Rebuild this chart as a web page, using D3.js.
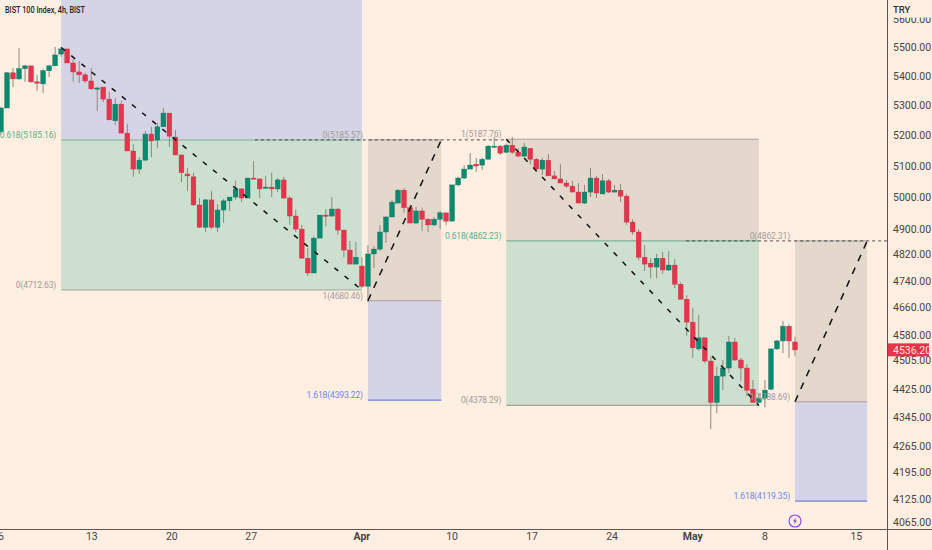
<!DOCTYPE html>
<html lang="en">
<head>
<meta charset="UTF-8">
<title>BIST 100 Index, 4h</title>
<script src="https://d3js.org/d3.v7.min.js"></script>
<style>
    html, body { margin: 0; padding: 0; background: #FFEFE2; }
    svg { display: block; font-family: Roboto, "Noto Sans", sans-serif; }
</style>
</head>
<body>
<svg id="chart" width="932" height="550"></svg>
<script>
// candles
const opens = [5212,5292,5412,5391,5426,5436,5381,5374,5419,5436,5477,5495,5446,5415,5405,5384,5357,5363,5322,5249,5305,5208,5149,5090,5119,5205,5185,5229,5275,5195,5136,5074,5065,4975,4905,4991,4905,4959,4988,5000,5026,4997,5061,5058,5029,5032,5026,5055,4997,4940,4899,4809,4764,4871,4943,4940,4962,4896,4834,4791,4785,4724,4822,4837,4890,4937,4981,5022,4966,4918,4956,4930,4912,4930,4950,4924,5039,5061,5090,5106,5103,5122,5162,5165,5145,5168,5145,5132,5158,5122,5090,5119,5068,5058,5045,5035,5016,4981,5016,5061,5010,5052,5016,5022,5003,4921,4890,4812,4794,4782,4809,4773,4788,4730,4685,4617,4539,4571,4504,4387,4461,4484,4559,4507,4484,4424,4387,4399,4424,4539,4562,4605,4559];
const highs = [5295,5415,5429,5498,5439,5436,5405,5426,5439,5502,5502,5495,5460,5453,5412,5429,5363,5363,5346,5326,5316,5239,5172,5129,5215,5229,5242,5292,5275,5218,5136,5094,5078,4997,4994,5019,4978,4994,5000,5052,5029,5061,5116,5061,5068,5078,5061,5065,5003,4959,4912,4840,4877,4943,4962,5000,4966,4896,4862,4859,4812,4849,4846,4912,4940,4991,5026,5029,4975,4969,4966,4934,4937,4956,4950,5039,5065,5103,5142,5126,5126,5168,5195,5168,5172,5195,5158,5175,5158,5126,5126,5139,5084,5106,5055,5052,5045,5039,5094,5068,5074,5058,5039,5042,5010,4930,4899,4849,4809,4822,4828,4831,4806,4736,4697,4659,4638,4571,4516,4487,4507,4577,4571,4513,4495,4450,4413,4450,4539,4565,4620,4611,4574];
const lows = [5205,5292,5363,5387,5381,5377,5350,5343,5398,5436,5467,5446,5381,5377,5377,5353,5282,5312,5252,5235,5208,5149,5065,5074,5119,5129,5158,5229,5162,5136,5048,5019,4972,4902,4890,4899,4890,4918,4956,4991,4984,4997,5058,4997,5026,5000,5016,4994,4912,4890,4809,4755,4764,4871,4908,4937,4881,4812,4791,4791,4718,4676,4779,4831,4856,4937,4981,4950,4918,4915,4893,4890,4908,4899,4912,4924,5035,5058,5090,5081,5087,5122,5162,5136,5142,5139,5132,5132,5106,5081,5071,5068,5058,5045,5029,5016,4981,4978,5000,4997,5010,5013,5016,4984,4912,4881,4803,4770,4748,4748,4761,4770,4718,4685,4577,4513,4533,4498,4313,4357,4421,4470,4504,4447,4404,4387,4387,4373,4421,4536,4527,4513,4519];
const closes = [5292,5412,5391,5426,5436,5381,5376,5419,5436,5474,5495,5446,5415,5405,5384,5357,5360,5322,5252,5305,5208,5149,5090,5119,5205,5182,5229,5275,5198,5136,5078,5068,4975,4905,4991,4905,4959,4988,5000,5026,4997,5061,5058,5026,5032,5026,5055,4997,4940,4899,4809,4764,4871,4943,4940,4962,4896,4834,4791,4812,4724,4822,4837,4890,4937,4984,5022,4966,4918,4956,4930,4912,4930,4950,4924,5039,5061,5090,5103,5100,5122,5165,5165,5142,5168,5145,5132,5162,5122,5090,5119,5068,5058,5045,5035,5016,4981,5016,5061,5013,5052,5016,5022,5003,4921,4890,4812,4791,4782,4809,4773,4788,4730,4685,4617,4542,4571,4504,4387,4461,4484,4559,4507,4484,4421,4387,4399,4421,4539,4562,4605,4562,4536.2];

const priceTicks = [5600,5500,5400,5300,5200,5100,5000,4900,4820,4740,4660,4580,4505,4425,4345,4265,4195,4125,4065];
const lastPrice = 4536.20;

const dateLabels = ["6","13","20","27","Apr","10","17","24","May","8","15"];
const dateBars = [0,15.1,28.4,41.6,60,75,88.3,101.6,115,127,142.2];

// fib tools, in bars and prices
const zoneBars = [[10,60],[10,60],[61,73.2],[61,73.2],[84,126],[84,126],[132,144],[132,144]];
const zonePrices = [[5950,5185.16],[5185.16,4712.63],[5185.57,4680.46],[4680.46,4393.22],[5187.76,4862.23],[4862.23,4378.29],[4862.31,4388.69],[4388.69,4119.35]];
const zoneKinds = ["blue","green","tan","blue","tan","green","tan","blue"];
const zoneEdges = ["g","n","n","b","g","n","n","b"];

const zigzagBars = [[10,60],[61,73.2],[84,126],[132,144]];
const zigzagPrices = [[5500,4712.63],[4680.46,5185.57],[5187.76,4378.29],[4388.69,4862.31]];
const zigzagDash = ["5 8","7 7","5 8","7 7"];
const levelBars = [[42.2,84],[113.9,148]];
const levelPrices = [5185.57,4862.31];

const fibLabels = ["0.618(5185.16)","0(4712.63)","0(5185.57)","1(4680.46)","1.618(4393.22)","1(5187.76)","0.618(4862.23)","0(4378.29)","0(4862.31)","1(4388.69)","1.618(4119.35)"];
const fibLabelBars = [10,10,61,61,61,84,84,84,132,132,132];
const fibLabelPrices = [5185.16,4712.63,5185.57,4680.46,4393.22,5187.76,4862.23,4378.29,4862.31,4388.69,4119.35];
const fibLabelKinds = ["g","n","n","n","b","n","g","n","n","n","b"];

const W = 932, H = 550, plotR = 887, plotB = 529;
const bull = "#0B8A70", bear = "#E5344B";
const zoneFill = {blue: "#D5D4E6", green: "#CDDFCE", tan: "#E3D8CB"};
const edgeColor = {b: "#6C86DA", g: "#7FB295", n: "#A8A198"};
const labelFill = {g: "#5BAF8B", n: "#A39C96", b: "#6B88DC"};

const svg = d3.select("#chart");

const x = d3.scaleLinear().domain([0, 132]).range([1, 795]);
const y = d3.scaleLog().domain([5500, 4125]).range([47.5, 499]);

svg.append("defs").append("clipPath").attr("id", "plot")
    .append("rect").attr("width", plotR).attr("height", plotB);
svg.append("defs").append("clipPath").attr("id", "scale")
    .append("rect").attr("x", plotR).attr("y", 17.5).attr("width", W - plotR).attr("height", plotB - 17.5);

const plot = svg.append("g").attr("clip-path", "url(#plot)");

// zones
const zones = zoneBars.map((b, i) => ({b, p: zonePrices[i], kind: zoneKinds[i], edge: zoneEdges[i]}));
plot.selectAll("rect.zone").data(zones).join("rect")
    .attr("class", "zone")
    .attr("x", d => x(d.b[0]))
    .attr("width", d => x(d.b[1]) - x(d.b[0]))
    .attr("y", d => y(d.p[0]))
    .attr("height", d => y(d.p[1]) - y(d.p[0]))
    .attr("fill", d => zoneFill[d.kind]);

// edge at the far side of each zone
plot.selectAll("line.edge").data(zones).join("line")
    .attr("class", "edge")
    .attr("x1", d => x(d.b[0])).attr("x2", d => x(d.b[1]))
    .attr("y1", d => y(d.p[1])).attr("y2", d => y(d.p[1]))
    .attr("stroke", d => edgeColor[d.edge]).attr("stroke-width", 1.2);
plot.selectAll("line.top").data(zones.filter(d => d.kind == "tan")).join("line")
    .attr("class", "top")
    .attr("x1", d => x(d.b[0])).attr("x2", d => x(d.b[1]))
    .attr("y1", d => y(d.p[0])).attr("y2", d => y(d.p[0]))
    .attr("stroke", edgeColor.n).attr("stroke-width", 1);

// level dashes
plot.selectAll("line.level").data(levelBars).join("line")
    .attr("class", "level")
    .attr("x1", d => x(d[0])).attr("x2", d => x(d[1]))
    .attr("y1", (d, i) => y(levelPrices[i])).attr("y2", (d, i) => y(levelPrices[i]))
    .attr("stroke", "#3a3a3a").attr("stroke-width", 0.9).attr("stroke-dasharray", "3 3");

// candles
const candles = opens.map((o, i) => ({i, o, h: highs[i], l: lows[i], c: closes[i]}));
const isUp = d => d.c >= d.o;
const candle = plot.selectAll("g.candle").data(candles).join("g").attr("class", "candle");
candle.append("line")
    .attr("x1", d => x(d.i)).attr("x2", d => x(d.i))
    .attr("y1", d => y(d.h)).attr("y2", d => y(d.l))
    .attr("stroke", "#8E877C").attr("stroke-width", 1);
candle.append("rect")
    .attr("x", d => x(d.i) - 2.4)
    .attr("width", 4.8)
    .attr("y", d => y(Math.max(d.o, d.c)))
    .attr("height", d => Math.max(1.2, Math.abs(y(d.o) - y(d.c))))
    .attr("fill", d => isUp(d) ? bull : bear)
    .attr("stroke", d => isUp(d) ? "#0A7560" : "#C9384A")
    .attr("stroke-width", 0.4);

// zigzag dashes
plot.selectAll("line.zigzag").data(zigzagBars).join("line")
    .attr("class", "zigzag")
    .attr("x1", d => x(d[0])).attr("x2", d => x(d[1]))
    .attr("y1", (d, i) => y(zigzagPrices[i][0])).attr("y2", (d, i) => y(zigzagPrices[i][1]))
    .attr("stroke", "#111").attr("stroke-width", 1.5)
    .attr("stroke-dasharray", (d, i) => zigzagDash[i]);

// fib labels, right aligned to the zone's left edge
plot.selectAll("text.fib").data(fibLabels).join("text")
    .attr("class", "fib")
    .attr("x", (d, i) => x(fibLabelBars[i]) - 5)
    .attr("y", (d, i) => y(fibLabelPrices[i]) - 3)
    .attr("dy", "0.1em")
    .attr("text-anchor", "end")
    .attr("font-size", 8.6)
    .attr("letter-spacing", -0.17)
    .attr("fill", (d, i) => labelFill[fibLabelKinds[i]])
    .text(d => d);

svg.append("text").attr("x", 5).attr("y", 13)
    .attr("font-size", 8.8).attr("font-weight", 500).attr("fill", "#222")
    .attr("textLength", 80).attr("lengthAdjust", "spacingAndGlyphs")
    .text("BIST 100 Index, 4h, BIST");

// price scale
svg.append("line").attr("x1", plotR + 0.5).attr("x2", plotR + 0.5).attr("y1", 0).attr("y2", H)
    .attr("stroke", "#5E5650");
svg.append("line").attr("x1", 0).attr("x2", W).attr("y1", plotB + 0.5).attr("y2", plotB + 0.5)
    .attr("stroke", "#5E5650");

svg.append("g").attr("clip-path", "url(#scale)")
    .selectAll("text").data(priceTicks).join("text")
    .attr("x", 893)
    .attr("y", d => y(d))
    .attr("dy", "0.36em")
    .attr("font-size", 10.5)
    .attr("fill", "#4A4340")
    .text(d => d3.format(".2f")(d));

svg.append("text").attr("x", 893).attr("y", 12.5)
    .attr("font-size", 9.5).attr("font-weight", 500).attr("fill", "#333").text("TRY");

svg.append("rect").attr("x", plotR + 1).attr("width", 41)
    .attr("y", y(lastPrice) - 6.5).attr("height", 13).attr("fill", bear);
svg.append("text").attr("x", 893).attr("y", y(lastPrice)).attr("dy", "0.36em")
    .attr("font-size", 10.5).attr("fill", "#FFE3DC").text(d3.format(".2f")(lastPrice));

// time axis
svg.append("g").selectAll("text").data(dateLabels).join("text")
    .attr("x", (d, i) => x(dateBars[i]))
    .attr("y", 540)
    .attr("text-anchor", "middle")
    .attr("font-size", 10.5)
    .attr("font-weight", d => isNaN(+d) ? 700 : 400)
    .attr("fill", "#4A4340")
    .text(d => d);

// earnings marker
const marker = svg.append("g").attr("transform", `translate(${x(132)},521)`);
marker.append("circle").attr("r", 6).attr("fill", "none").attr("stroke", "#8B3FD9").attr("stroke-width", 1.1);
marker.append("path").attr("d", "M1,-3.5 L-2,0.6 L-0.2,0.6 L-1,3.5 L2,-0.6 L0.2,-0.6 Z").attr("fill", "#8B3FD9");
</script>
</body>
</html>
